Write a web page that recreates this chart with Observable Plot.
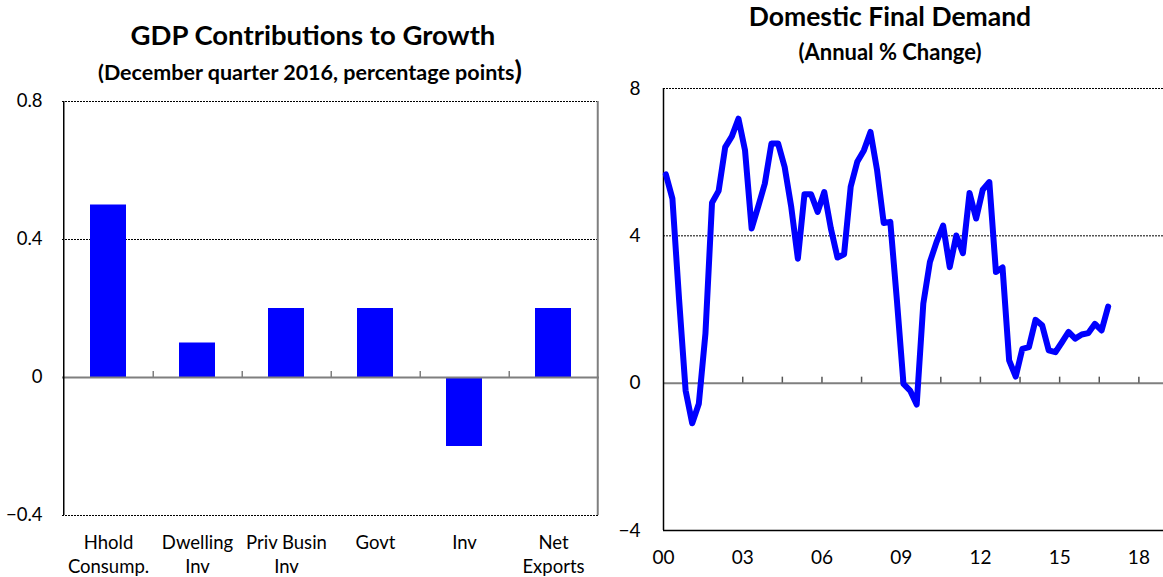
<!DOCTYPE html>
<html><head><meta charset="utf-8">
<script src="https://cdn.jsdelivr.net/npm/d3@7"></script>
<script src="https://cdn.jsdelivr.net/npm/@observablehq/plot@0.6"></script>
<style>
html,body{margin:0;padding:0;background:#fff;}
#wrap{position:relative;width:1163px;height:577px;overflow:hidden;font-family:Lato,"DejaVu Sans",sans-serif;}
.t{position:absolute;text-align:center;font-weight:bold;color:#000;white-space:nowrap;}
.p{position:absolute;}
</style></head><body>
<div id="wrap">
  <div class="t" style="left:0;width:626px;top:18px;font-size:27.5px;">GDP Contributions to Growth</div>
  <div class="t" style="left:0;width:620px;top:59px;font-size:21.5px;">(December quarter 2016, percentage points<span style="font-size:27px;line-height:20px;">)</span></div>
  <div class="t" style="left:600px;width:580px;top:0px;font-size:26.5px;">Domestic Final Demand</div>
  <div class="t" style="left:600px;width:580px;top:38px;font-size:22px;">(Annual % Change)</div>
  <div class="p" id="left" style="left:0;top:85px;"></div>
  <div class="p" id="right" style="left:600px;top:75px;"></div>
</div>
<script>
// ---- Left panel data ----
const categories = ["Hhold\nConsump.", "Dwelling\nInv", "Priv Busin\nInv", "Govt", "Inv", "Net\nExports"];
const contributions = [0.5, 0.1, 0.2, 0.2, -0.2, 0.2];
const leftYTicks = [-0.4, 0, 0.4, 0.8];
const leftGrid = [-0.4, 0.4, 0.8];

// ---- Right panel data (quarterly, from March quarter 2000) ----
const dfdValues = [5.67, 5.01, 2.3, -0.2, -1.09, -0.56, 1.34, 4.9, 5.22, 6.41, 6.70, 7.18,
  6.32, 4.20, 4.8, 5.42, 6.51, 6.51, 5.87, 4.78, 3.38, 5.13, 5.13, 4.65,
  5.19, 4.20, 3.41, 3.50, 5.33, 6.01, 6.32, 6.82, 5.78, 4.35, 4.38, 2.25,
  -0.02, -0.2, -0.58, 2.16, 3.29, 3.83, 4.28, 3.15, 4.01, 3.53, 5.16, 4.47,
  5.25, 5.46, 3.02, 3.14, 0.62, 0.18, 0.93, 0.98, 1.72, 1.57, 0.89, 0.84,
  1.11, 1.39, 1.21, 1.32, 1.36, 1.61, 1.43, 2.08];
const startYear = 2000;
const yearLabelPos = [2000, 2003, 2006, 2009, 2012, 2015, 2018];
const yearLabels = ["00", "03", "06", "09", "12", "15", "18"];
const minorTicks = [2001.5, 2003, 2004.5, 2006, 2007.5, 2009, 2010.5, 2012, 2013.5, 2015, 2016.5, 2018];
const rightYTicks = [-4, 0, 4, 8];
const rightGrid = [4, 8];

const font = "Lato, 'DejaVu Sans', sans-serif";
const blue = "#0000ff";

// Left chart
const barData = categories.map((c, i) => ({cat: c, v: contributions[i]}));
const lw = 600, lh = 492, lml = 62, lmr = 1;
const step = (lw - lml - lmr) / categories.length;
const left = Plot.plot({
  width: lw, height: lh,
  marginLeft: lml, marginRight: lmr, marginTop: 16, marginBottom: 62,
  style: {fontFamily: font, fontSize: "18px", color: "#000", background: "#fff", overflow: "visible"},
  x: {domain: categories, paddingInner: 0.6, paddingOuter: 0.3, axis: null},
  y: {domain: [-0.4, 0.8], axis: null},
  marks: [
    Plot.ruleY(leftGrid, {stroke: "#000", strokeDasharray: "2,1", strokeWidth: 1}),
    Plot.barY(barData, {x: "cat", y: "v", fill: blue}),
    Plot.ruleY([0], {stroke: "#7f7f7f", strokeWidth: 2}),
    Plot.ruleX(categories.slice(0, -1), {y1: 0, y2: 0, insetTop: -6, dx: step / 2, stroke: "#7f7f7f", strokeWidth: 1.5}),
    Plot.ruleX([categories[0]], {dx: -step / 2, stroke: "#000", strokeWidth: 1.5}),
    Plot.ruleX([categories[categories.length - 1]], {dx: step / 2 - 0.5, stroke: "#7f7f7f", strokeWidth: 2}),
    Plot.axisY(leftYTicks, {label: null, tickSize: 0, tickPadding: 20, fontSize: 18.5, tickFormat: d => d === 0 ? "0" : d3.format(".1f")(d)}),
    Plot.text(categories, {x: d => d, y: -0.4, text: d => d, lineAnchor: "top", dy: 16, lineHeight: 1.3, fontSize: 18.5, fill: "#000"})
  ]
});
document.getElementById("left").appendChild(left);

// Right chart
const lineData = dfdValues.map((v, i) => ({t: startYear + (i + 0.35) / 4, v}));
const labelData = yearLabelPos.map((y, i) => ({y, label: yearLabels[i]}));
const pxPerYear = 26.41;
const rw = 563, rml = 63, rmr = 0;
const right = Plot.plot({
  width: rw, height: 502,
  marginLeft: rml, marginRight: rmr, marginTop: 13, marginBottom: 47,
  style: {fontFamily: font, fontSize: "18px", color: "#000", background: "#fff", overflow: "visible"},
  x: {domain: [2000, 2000 + (rw - rml - rmr) / pxPerYear], axis: null},
  y: {domain: [-4, 8], axis: null},
  marks: [
    Plot.ruleY(rightGrid, {stroke: "#000", strokeDasharray: "2,1", strokeWidth: 1}),
    Plot.ruleY([0], {stroke: "#7f7f7f", strokeWidth: 2}),
    Plot.ruleX(minorTicks, {y1: 0, y2: 0, insetTop: -6, stroke: "#555", strokeWidth: 1.5}),
    Plot.ruleY([-4], {stroke: "#000", strokeWidth: 1.5}),
    Plot.ruleX([2000], {stroke: "#000", strokeWidth: 1.5}),
    Plot.line(lineData, {x: "t", y: "v", stroke: blue, strokeWidth: 6, strokeLinejoin: "round"}),
    Plot.axisY(rightYTicks, {label: null, tickSize: 0, tickPadding: 23, fontSize: 19}),
    Plot.text(labelData, {x: "y", y: -4, text: "label", dy: 27, fontSize: 19, fill: "#000"})
  ]
});
document.getElementById("right").appendChild(right);
</script>
</body></html>
